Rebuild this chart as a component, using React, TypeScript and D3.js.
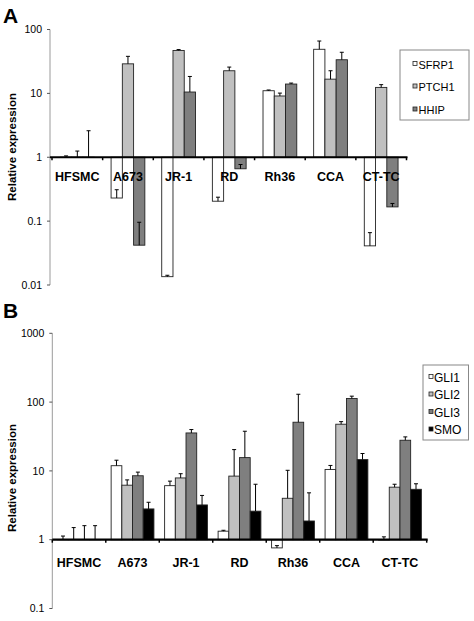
import React from "react";
import * as d3 from "d3";

const categories = ["HFSMC", "A673", "JR-1", "RD", "Rh36", "CCA", "CT-TC"];

// Panel A
const seriesA = ["SFRP1", "PTCH1", "HHIP"];
const sfrp1 = [1.0, 0.23, 0.0135, 0.205, 11.0, 49, 0.041];
const sfrp1Err = [1.05, 0.31, 0.0142, 0.237, 11.3, 66, 0.066];
const ptch1 = [1.0, 29, 47, 22.6, 9.1, 16.7, 12.4];
const ptch1Err = [1.25, 38, 48.5, 25.8, 10.1, 22.6, 13.7];
const hhip = [1.0, 0.042, 10.5, 0.66, 14.0, 33.6, 0.167];
const hhipErr = [2.6, 0.096, 18.4, 0.77, 14.5, 44, 0.189];
const ticksA = [100, 10, 1, 0.1, 0.01];
const tickLabelsA = ["100", "10", "1", "0.1", "0.01"];

// Panel B
const seriesB = ["GLI1", "GLI2", "GLI3", "SMO"];
const gli1 = [1.0, 11.9, 6.1, 1.33, 0.76, 10.5, 0.99];
const gli1Err = [1.13, 14.3, 7.1, 1.37, 0.82, 12, 1.1];
const gli2 = [1.0, 6.2, 7.9, 8.4, 4.0, 47.7, 5.8];
const gli2Err = [1.5, 7.4, 9.1, 20.4, 10.2, 52, 6.4];
const gli3 = [1.0, 8.5, 35.6, 15.6, 51, 113, 27.9];
const gli3Err = [1.6, 9.6, 39.9, 37.7, 130, 122, 31.2];
const smo = [1.0, 2.8, 3.2, 2.6, 1.87, 14.6, 5.4];
const smoErr = [1.6, 3.5, 4.4, 6.4, 4.8, 17.9, 6.5];
const ticksB = [1000, 100, 10, 1, 0.1];
const tickLabelsB = ["1000", "100", "10", "1", "0.1"];

const FONT = "'Liberation Sans', Arial, Helvetica, sans-serif";

type Panel = {
  letter: string;
  letterY: number;
  series: string[];
  values: number[][];
  errs: number[][];
  colors: string[];
  domain: [number, number];
  yRange: [number, number];
  xRange: [number, number];
  axisX: number;
  outerPad: number;
  ticks: number[];
  tickLabels: string[];
  labelY: number;
  yTitleY: number;
  legend: {
    x: number;
    y: number;
    w: number;
    h: number;
    rowY: number[];
    fontSize: number;
    markerDx: number;
    textDx: number;
  };
};

function ChartPanel({ p }: { p: Panel }) {
  const y = d3.scaleLog().domain(p.domain).range(p.yRange);
  const x = d3.scaleBand<string>().domain(categories).range(p.xRange).paddingInner(0).paddingOuter(0);
  const xs = d3
    .scaleBand<string>()
    .domain(p.series)
    .range([0, x.bandwidth()])
    .paddingInner(0)
    .paddingOuter(p.outerPad);
  const y1 = y(1);
  const bw = xs.bandwidth();
  const tickPositions = categories.map((c) => x(c) as number).concat([p.xRange[1]]);
  return (
    <g>
      <text x={3} y={p.letterY} fontFamily={FONT} fontWeight="bold" fontSize={21} fill="#000">
        {p.letter}
      </text>
      {/* y axis */}
      <line x1={p.axisX} x2={p.axisX} y1={p.yRange[1]} y2={p.yRange[0]} stroke="#9a9a9a" strokeWidth={1} />
      {p.ticks.map((t, i) => (
        <g key={t}>
          <line x1={p.axisX - 3} x2={p.axisX} y1={y(t)} y2={y(t)} stroke="#555" strokeWidth={1} />
          <text
            x={p.axisX - 8}
            y={y(t)}
            dy="0.35em"
            textAnchor="end"
            fontFamily={FONT}
            fontSize={10.5}
            fill="#000"
          >
            {p.tickLabels[i]}
          </text>
        </g>
      ))}
      <text
        transform={`translate(16,${p.yTitleY}) rotate(-90)`}
        textAnchor="middle"
        fontFamily={FONT}
        fontWeight="bold"
        fontSize={11.5}
        fill="#000"
      >
        Relative expression
      </text>
      {/* bars */}
      {categories.map((c, ci) =>
        p.series.map((s, si) => {
          const v = p.values[si][ci];
          const bx = (x(c) as number) + (xs(s) as number);
          const yv = y(v);
          const top = Math.min(yv, y1);
          const h = Math.abs(yv - y1);
          return (
            <rect
              key={c + s}
              x={bx}
              y={top}
              width={bw}
              height={Math.max(h, 0.01)}
              fill={p.colors[si]}
              stroke="#222"
              strokeWidth={0.9}
            />
          );
        })
      )}
      {/* baseline */}
      <line x1={p.axisX} x2={p.xRange[1] + 1} y1={y1} y2={y1} stroke="#000" strokeWidth={2.2} />
      {tickPositions.map((tx, i) => (
        <line key={i} x1={tx} x2={tx} y1={y1} y2={y1 + 3} stroke="#000" strokeWidth={1.5} />
      ))}
      {/* error bars */}
      {categories.map((c, ci) =>
        p.series.map((s, si) => {
          const v = p.values[si][ci];
          const e = p.errs[si][ci];
          const cx = (x(c) as number) + (xs(s) as number) + bw / 2;
          return (
            <g key={"e" + c + s}>
              <line x1={cx} x2={cx} y1={y(v)} y2={y(e)} stroke="#000" strokeWidth={1} />
              <line x1={cx - 2} x2={cx + 2} y1={y(e)} y2={y(e)} stroke="#000" strokeWidth={1} />
            </g>
          );
        })
      )}
      {/* category labels */}
      {categories.map((c) => (
        <text
          key={"l" + c}
          x={(x(c) as number) + x.bandwidth() / 2}
          y={p.labelY}
          textAnchor="middle"
          fontFamily={FONT}
          fontWeight="bold"
          fontSize={12.5}
          fill="#000"
        >
          {c}
        </text>
      ))}
      {/* legend */}
      <rect
        x={p.legend.x}
        y={p.legend.y}
        width={p.legend.w}
        height={p.legend.h}
        fill="#fff"
        stroke="#888"
        strokeWidth={1}
      />
      {p.series.map((s, si) => (
        <g key={"lg" + s}>
          <rect
            x={p.legend.x + p.legend.markerDx}
            y={p.legend.rowY[si] - 7}
            width={4}
            height={4}
            fill={p.colors[si]}
            stroke="#222"
            strokeWidth={0.8}
          />
          <text
            x={p.legend.x + p.legend.textDx}
            y={p.legend.rowY[si]}
            fontFamily={FONT}
            fontSize={p.legend.fontSize}
            fill="#000"
          >
            {s}
          </text>
        </g>
      ))}
    </g>
  );
}

export default function App() {
  const panelA: Panel = {
    letter: "A",
    letterY: 23,
    series: seriesA,
    values: [sfrp1, ptch1, hhip],
    errs: [sfrp1Err, ptch1Err, hhipErr],
    colors: ["#ffffff", "#c0c0c0", "#7f7f7f"],
    domain: [0.01, 100],
    yRange: [285, 29.5],
    xRange: [52, 406.5],
    axisX: 50,
    outerPad: 0.75,
    ticks: ticksA,
    tickLabels: tickLabelsA,
    labelY: 180.5,
    yTitleY: 147,
    legend: { x: 400, y: 50, w: 69, h: 70, rowY: [68.5, 91, 114], fontSize: 11, markerDx: 13, textDx: 18.5 },
  };
  const panelB: Panel = {
    letter: "B",
    letterY: 318,
    series: seriesB,
    values: [gli1, gli2, gli3, smo],
    errs: [gli1Err, gli2Err, gli3Err, smoErr],
    colors: ["#ffffff", "#c0c0c0", "#7f7f7f", "#000000"],
    domain: [0.1, 1000],
    yRange: [608.5, 333.3],
    xRange: [52.3, 426.7],
    axisX: 52.3,
    outerPad: 0.5,
    ticks: ticksB,
    tickLabels: tickLabelsB,
    labelY: 566.5,
    yTitleY: 478,
    legend: {
      x: 423,
      y: 365,
      w: 45.5,
      h: 75,
      rowY: [381.5, 399, 416.5, 434],
      fontSize: 12,
      markerDx: 6,
      textDx: 11,
    },
  };
  return (
    <svg
      width={474}
      height={621}
      viewBox="0 0 474 621"
      style={{ position: "absolute", left: 0, top: 0, background: "#fff" }}
    >
      <rect x={0} y={0} width={474} height={621} fill="#fff" />
      <ChartPanel p={panelA} />
      <ChartPanel p={panelB} />
    </svg>
  );
}
